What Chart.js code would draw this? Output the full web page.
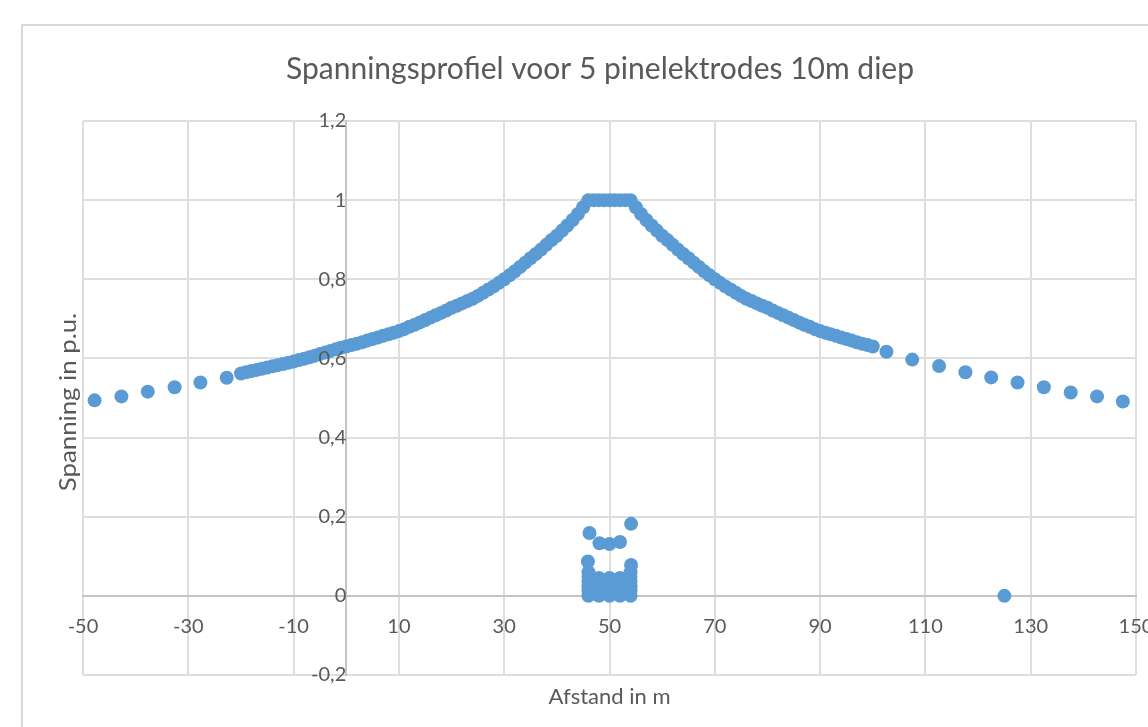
<!DOCTYPE html>
<html>
<head>
<meta charset="utf-8">
<script src="https://cdn.jsdelivr.net/npm/chart.js@4.4.0/dist/chart.umd.min.js"></script>
<style>
  html, body { margin: 0; padding: 0; background: #fff; }
</style>
</head>
<body>
<canvas id="c" width="1148" height="727"></canvas>
<script>
// values: x = afstand (m), y = spanning (p.u.)
var farLeftX = [-47.8, -42.7, -37.7, -32.6, -27.7, -22.7];
var farLeftY = [0.494, 0.504, 0.516, 0.527, 0.539, 0.551];

var profileX = [-20, -19, -18, -17, -16, -15, -14, -13, -12, -11,
  -10, -9, -8, -7, -6, -5, -4, -3, -2, -1,
  0, 1, 2, 3, 4, 5, 6, 7, 8, 9,
  10, 11, 12, 13, 14, 15, 16, 17, 18, 19,
  20, 21, 22, 23, 24, 25, 26, 27, 28, 29,
  30, 31, 32, 33, 34, 35, 36, 37, 38, 39,
  40, 41, 42, 43, 44, 45, 46, 47, 48, 49,
  50, 51, 52, 53, 54, 55, 56, 57, 58, 59,
  60, 61, 62, 63, 64, 65, 66, 67, 68, 69,
  70, 71, 72, 73, 74, 75, 76, 77, 78, 79,
  80, 81, 82, 83, 84, 85, 86, 87, 88, 89,
  90, 91, 92, 93, 94, 95, 96, 97, 98, 99, 100];
var profileY = [0.562, 0.565, 0.568, 0.571, 0.574, 0.577, 0.580, 0.583, 0.586, 0.589,
  0.592, 0.596, 0.599, 0.603, 0.607, 0.611, 0.615, 0.619, 0.623, 0.627,
  0.630, 0.634, 0.637, 0.641, 0.645, 0.649, 0.653, 0.657, 0.661, 0.665,
  0.669, 0.674, 0.680, 0.685, 0.691, 0.697, 0.703, 0.709, 0.715, 0.721,
  0.728, 0.733, 0.739, 0.745, 0.751, 0.758, 0.766, 0.774, 0.782, 0.791,
  0.800, 0.810, 0.820, 0.831, 0.842, 0.853, 0.864, 0.875, 0.887, 0.899,
  0.910, 0.923, 0.936, 0.950, 0.965, 0.982, 1.000, 1.000, 1.000, 1.000,
  1.000, 1.000, 1.000, 1.000, 1.000, 0.982, 0.965, 0.950, 0.936, 0.923,
  0.910, 0.899, 0.887, 0.875, 0.864, 0.853, 0.842, 0.831, 0.820, 0.810,
  0.800, 0.791, 0.782, 0.774, 0.766, 0.758, 0.751, 0.745, 0.739, 0.733,
  0.728, 0.721, 0.715, 0.709, 0.703, 0.697, 0.691, 0.685, 0.680, 0.674,
  0.669, 0.665, 0.661, 0.657, 0.653, 0.649, 0.645, 0.641, 0.637, 0.634, 0.630];

var farRightX = [102.6, 107.5, 112.6, 117.6, 122.5, 127.5, 132.5, 137.6, 142.6, 147.5];
var farRightY = [0.617, 0.597, 0.581, 0.565, 0.552, 0.539, 0.527, 0.514, 0.504, 0.491];

// points near the ground (electrodes) + the lone one at 125 m
var groundX = [46, 46, 46, 46, 46, 46, 45.9, 46.2,
  48, 48, 48, 48, 48, 48.1,
  50, 50, 50, 50, 50, 50,
  52, 52, 52, 52, 52, 52,
  54, 54, 54, 54, 54, 54, 54.1, 54.1,
  125];
var groundY = [0, 0.012, 0.024, 0.036, 0.048, 0.06, 0.087, 0.159,
  0, 0.012, 0.024, 0.036, 0.045, 0.133,
  0, 0.012, 0.024, 0.036, 0.045, 0.131,
  0, 0.012, 0.024, 0.036, 0.045, 0.136,
  0, 0.012, 0.024, 0.036, 0.048, 0.06, 0.078, 0.182,
  0];

var xTicks = [-50, -30, -10, 10, 30, 50, 70, 90, 110, 130, 150];
var yTicks = [-0.2, 0, 0.2, 0.4, 0.6, 0.8, 1, 1.2];
var yLabels = ['-0,2', '0', '0,2', '0,4', '0,6', '0,8', '1', '1,2'];

var fam = 'Lato, "Open Sans", sans-serif';
var grey = '#595959';

function zip(xs, ys) {
  var out = [];
  for (var i = 0; i < xs.length; i++) out.push({x: xs[i], y: ys[i]});
  return out;
}
var points = zip(farLeftX, farLeftY)
  .concat(zip(profileX, profileY))
  .concat(zip(farRightX, farRightY))
  .concat(zip(groundX, groundY));

// outer frame, main title and the two axis titles
var frame = {
  id: 'frame',
  beforeDraw: function(chart) {
    var ctx = chart.ctx;
    ctx.save();
    ctx.fillStyle = '#fff';
    ctx.fillRect(0, 0, chart.width, chart.height);
    ctx.strokeStyle = '#d9d9d9';
    ctx.lineWidth = 2;
    ctx.strokeRect(22, 25, 1200, 800);
    ctx.restore();
  },
  afterDraw: function(chart) {
    var a = chart.chartArea, ctx = chart.ctx;
    ctx.save();
    ctx.fillStyle = grey;
    ctx.textAlign = 'center';
    ctx.textBaseline = 'alphabetic';
    ctx.font = '30px ' + fam;
    ctx.fillText('Spanningsprofiel voor 5 pinelektrodes 10m diep', 600, 79);
    ctx.font = '22px ' + fam;
    ctx.fillText('Afstand in m', (a.left + a.right) / 2, 704);
    ctx.translate(76, (a.top + a.bottom) / 2 + 4);
    ctx.rotate(-Math.PI / 2);
    ctx.scale(1.12, 1);
    ctx.font = '23px ' + fam;
    ctx.fillText('Spanning in p.u.', 0, 0);
    ctx.restore();
  }
};

new Chart(document.getElementById('c'), {
  type: 'scatter',
  data: {
    datasets: [{
      label: 'Spanning',
      data: points,
      backgroundColor: '#5b9bd5',
      borderWidth: 0,
      pointRadius: 7,
      pointHoverRadius: 7
    }]
  },
  options: {
    responsive: false,
    animation: false,
    devicePixelRatio: 1,
    layout: { padding: { left: 83, right: 12, top: 121, bottom: 52 } },
    plugins: {
      legend: { display: false },
      tooltip: { enabled: false },
      title: { display: false }
    },
    scales: {
      x: {
        type: 'linear',
        position: { y: 0 },
        min: -50,
        max: 150,
        afterBuildTicks: function(s) { s.ticks = xTicks.map(function(v) { return {value: v}; }); },
        afterFit: function(s) { s.paddingLeft = 0; s.paddingRight = 0; },
        grid: { color: '#dedede', lineWidth: 2, drawTicks: false },
        border: { display: true, color: '#c4c4c4', width: 2 },
        ticks: { color: grey, font: { family: fam, size: 20 }, padding: 19, maxRotation: 0, autoSkip: false }
      },
      y: {
        type: 'linear',
        position: { x: 0 },
        min: -0.2,
        max: 1.2,
        afterBuildTicks: function(s) { s.ticks = yTicks.map(function(v) { return {value: v}; }); },
        grid: { color: '#dedede', lineWidth: 2, drawTicks: false },
        border: { display: true, color: '#c4c4c4', width: 2 },
        ticks: {
          color: grey, font: { family: fam, size: 20 }, padding: 20, z: 1, autoSkip: false,
          callback: function(v, i) { return yLabels[i]; }
        }
      }
    }
  },
  plugins: [frame]
});
</script>
</body>
</html>
